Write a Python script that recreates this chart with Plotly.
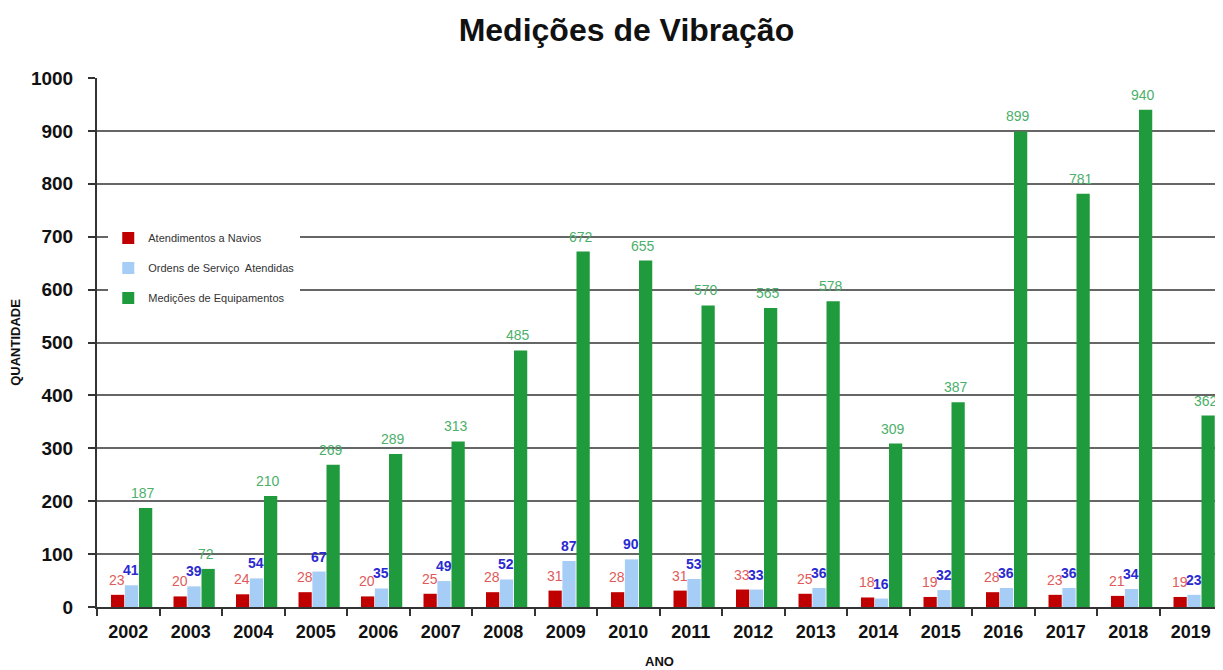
import plotly.graph_objects as go

years = [str(y) for y in range(2002, 2020)]
navios = [23, 20, 24, 28, 20, 25, 28, 31, 28, 31, 33, 25, 18, 19, 28, 23, 21, 19]
ordens = [41, 39, 54, 67, 35, 49, 52, 87, 90, 53, 33, 36, 16, 32, 36, 36, 34, 23]
medicoes = [187, 72, 210, 269, 289, 313, 485, 672, 655, 570, 565, 578, 309, 387, 899, 781, 940, 362]

# name, values, bar colour, label colour, bold label, label x-shift (px), bar offset (category units)
series = [
    ("Atendimentos a Navios", navios, "#c00000", "#e05a5a", False, -11, -0.276),
    ("Ordens de Serviço  Atendidas", ordens, "#a6cdf5", "#2a2ad0", True, 3, -0.054),
    ("Medições de Equipamentos", medicoes, "#1f9a3c", "#4caf6a", False, 15, 0.172),
]
BAR_W = 0.212

FONT = "Liberation Sans, Arial, sans-serif"

fig = go.Figure()
annotations = []
for i, (name, vals, col, tcol, bold, xs, off) in enumerate(series):
    fig.add_trace(go.Bar(
        x=years, y=vals, name=name, marker=dict(color=col, line=dict(width=0)),
        legendgroup=f"g{i}", width=BAR_W, offset=off,
    ))
    for k, v in enumerate(vals):
        annotations.append(dict(
            x=k, y=v, xref="x", yref="y", text=f"<b>{v}</b>" if bold else str(v),
            showarrow=False, xshift=xs, yshift=15, yanchor="middle",
            font=dict(family=FONT, size=14, color=tcol),
        ))

fig.update_layout(
    width=1215, height=662,
    paper_bgcolor="white", plot_bgcolor="white",
    margin=dict(l=89, r=1, t=70, b=63),
    barmode="group",
    title=dict(text="<b>Medições de Vibração</b>", x=0.509, xanchor="center", y=0.967, yanchor="middle",
               font=dict(family=FONT, size=32, color="#111111")),
    font=dict(family=FONT, color="#111111"),
    legend=dict(x=0.01, y=0.725, xanchor="left", yanchor="top", bgcolor="white",
                font=dict(size=11, color="#333333"), tracegroupgap=11, itemwidth=30),
    annotations=annotations,
    showlegend=True,
)
fig.update_xaxes(
    type="category", range=[-0.5, len(years) - 0.5], showline=True, linecolor="#333333", linewidth=2,
    ticks="outside", tickson="boundaries", ticklen=7, tickcolor="#333333", tickwidth=2,
    ticklabelstandoff=7,
    tickfont=dict(size=18, color="#111111", family=FONT, weight="bold"),
    title=dict(text="<b>ANO</b>", font=dict(size=13), standoff=16),
)
fig.update_yaxes(
    range=[0, 1000], dtick=100, showgrid=True, gridcolor="#666666", gridwidth=2,
    showline=True, linecolor="#333333", linewidth=2,
    ticks="outside", ticklen=7, tickcolor="#333333", tickwidth=2, ticklabelstandoff=11,
    tickfont=dict(size=19, color="#111111", family=FONT, weight="bold"),
    title=dict(text="<b>QUANTIDADE</b>", font=dict(size=13), standoff=10),
    zeroline=False,
)

fig.write_html("out.html")
